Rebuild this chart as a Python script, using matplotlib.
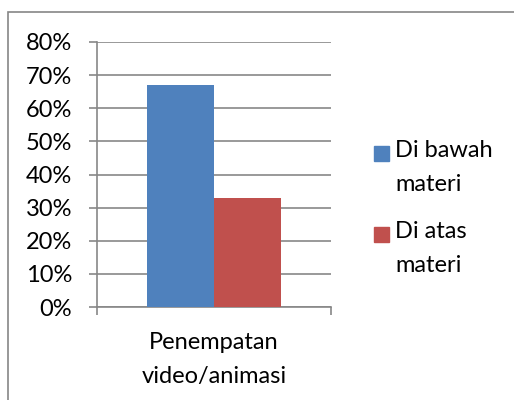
import matplotlib
matplotlib.use("Agg")
import matplotlib.pyplot as plt
from matplotlib.patches import Rectangle

categories = ["Penempatan\nvideo/animasi"]
series_names = ["Di bawah\nmateri", "Di atas\nmateri"]
series_values = [67, 33]
colors = ["#4f81bd", "#c0504d"]
yticks = [0, 10, 20, 30, 40, 50, 60, 70, 80]

plt.rcParams["font.family"] = ["Lato", "DejaVu Sans"]
W, H = 514, 400
fs = 17
fig = plt.figure(figsize=(W / 100, H / 100), dpi=100)

# outer chart frame (runs off the right and bottom edge)
fig.patches.append(Rectangle((8 / W, -0.1), 1.2, 1 - 12 / H + 0.1,
                             transform=fig.transFigure, fill=False,
                             edgecolor="#868686", linewidth=1.2))

ax = fig.add_axes([97 / W, 1 - 307 / H, 234 / W, 265 / H])
bw = 67 / 234
for i, (name, v) in enumerate(zip(series_names, series_values)):
    ax.bar((i - 0.5) * bw, v, width=bw, color=colors[i], zorder=3)

ax.set_xlim(-0.5, 0.5)
ax.set_ylim(0, 80)
ax.set_yticks(yticks)
ax.set_yticklabels([f"{t}%" for t in yticks], fontsize=fs)
ax.set_xticks([-0.5, 0.5])
ax.set_xticklabels(["", ""])
ax.grid(axis="y", color="#878787", linewidth=1.2, zorder=0)
ax.tick_params(axis="y", length=6, width=1.2, color="#878787", pad=12)
ax.tick_params(axis="x", length=6, width=1.2, color="#878787")
for s in ["top", "right"]:
    ax.spines[s].set_visible(False)
for s in ["left", "bottom"]:
    ax.spines[s].set_color("#878787")
    ax.spines[s].set_linewidth(1.2)
ax.text(0, -0.095, categories[0], transform=ax.get_xaxis_transform(),
        ha="center", va="top", fontsize=fs, linespacing=1.75)

# legend
for i, name in enumerate(series_names):
    y0 = 153 + i * 81
    fig.patches.append(Rectangle((374 / W, 1 - (y0 + 7.5) / H), 15 / W, 15 / H,
                                 transform=fig.transFigure, color=colors[i]))
    fig.text(395 / W, 1 - (y0 - 13) / H, name, ha="left", va="top",
             fontsize=fs, linespacing=1.75)

fig.savefig("out.png", dpi=100)
